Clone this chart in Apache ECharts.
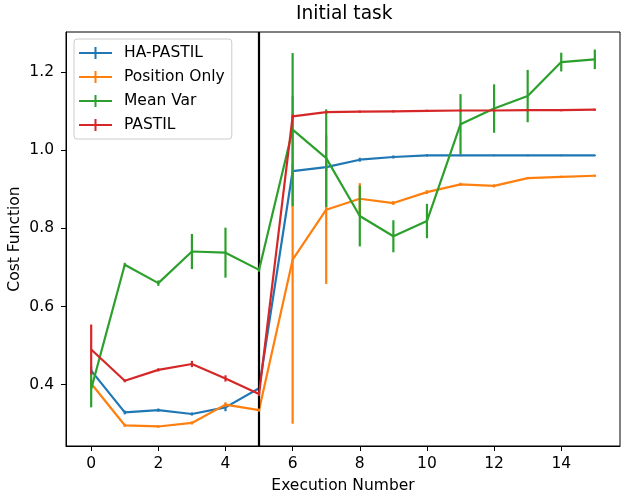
<!DOCTYPE html>
<html>
<head>
<meta charset="utf-8">
<script src="https://cdn.jsdelivr.net/npm/echarts@6/dist/echarts.min.js"></script>
<style>html,body{margin:0;padding:0;background:#fff}#c{width:621px;height:497px}</style>
</head>
<body>
<div id="c"></div>
<script>
const executions = [0,1,2,3,4,5,6,7,8,9,10,11,12,13,14,15];
const haPastil = [0.436,0.329,0.335,0.325,0.342,0.391,0.947,0.957,0.976,0.983,0.987,0.987,0.987,0.987,0.987,0.987];
const haPastilErr = [0.010,0.005,0.004,0.004,0.010,0.005,0.020,0.010,0.005,0.004,0.003,0.002,0.002,0.002,0.002,0.002];
const positionOnly = [0.403,0.296,0.293,0.302,0.349,0.335,0.720,0.848,0.876,0.865,0.893,0.913,0.909,0.929,0.932,0.935];
const positionOnlyErr = [0.010,0.004,0.003,0.004,0.006,0.004,0.420,0.190,0.040,0.005,0.005,0.004,0.004,0.003,0.003,0.003];
const meanVar = [0.389,0.707,0.660,0.741,0.738,0.694,1.053,0.980,0.832,0.780,0.819,1.067,1.107,1.139,1.226,1.233];
const meanVarErr = [0.047,0.005,0.007,0.045,0.064,0.005,0.196,0.125,0.078,0.041,0.044,0.077,0.062,0.067,0.024,0.025];
const pastil = [0.490,0.410,0.438,0.453,0.416,0.376,1.087,1.098,1.099,1.100,1.101,1.102,1.102,1.103,1.103,1.104];
const pastilErr = [0.064,0.004,0.004,0.008,0.008,0.005,0.005,0.003,0.003,0.003,0.003,0.003,0.003,0.003,0.003,0.003];
const seriesNames = ['HA-PASTIL','Position Only','Mean Var','PASTIL'];
const colors = ['#1f77b4','#ff7f0e','#2ca02c','#d62728'];
const xTicks = [0,2,4,6,8,10,12,14];
const yTicks = [0.4,0.6,0.8,1.0,1.2];
const taskSwitch = 5;

const values = [haPastil, positionOnly, meanVar, pastil];
const errs = [haPastilErr, positionOnlyErr, meanVarErr, pastilErr];
const FONT = 'DejaVu Sans';
const LW = 2.2;

const series = [];
values.forEach((vals, i) => {
  series.push({
    name: seriesNames[i], type: 'line', data: executions.map((x, j) => [x, vals[j]]),
    showSymbol: false, symbol: 'none', color: colors[i],
    lineStyle: {width: LW, color: colors[i]}, z: 2 + i * 2, animation: false
  });
  series.push({
    name: seriesNames[i] + ' err', type: 'custom', z: 3 + i * 2, animation: false,
    data: executions.map((x, j) => [x, vals[j], errs[i][j]]),
    renderItem: (params, api) => {
      const x = api.value(0), y = api.value(1), e = api.value(2);
      const lo = api.coord([x, y - e]), hi = api.coord([x, y + e]);
      return {type: 'line', shape: {x1: lo[0], y1: lo[1], x2: hi[0], y2: hi[1]},
        style: {stroke: colors[i], lineWidth: LW}};
    }
  });
});
series.push({
  name: 'switch', type: 'line', data: [], z: 20, animation: false,
  markLine: {silent: true, symbol: 'none', label: {show: false},
    lineStyle: {color: '#000', width: 2.2, type: 'solid'},
    data: [{xAxis: taskSwitch}]}
});

const chart = echarts.init(document.getElementById('c'), null, {renderer: 'canvas'});
chart.setOption({
  animation: false,
  backgroundColor: '#fff',
  title: {text: 'Initial task', left: 291, top: 0,
    textStyle: {fontFamily: FONT, fontSize: 18.6, fontWeight: 'normal', color: '#000'}},
  grid: {left: 66, right: 1, top: 32, bottom: 51, show: true, borderColor: '#000', borderWidth: 1,
    containLabel: false, outerBoundsMode: 'none'},
  legend: {
    data: seriesNames, orient: 'vertical', left: 74, top: 39,
    icon: 'path://M0,5H33V7H0Z M15.5,0H17.5V12H15.5Z',
    itemWidth: 33, itemHeight: 12, itemGap: 8,
    padding: [6, 7, 6, 5],
    backgroundColor: 'rgba(255,255,255,0.8)', borderColor: '#ccc', borderWidth: 1, borderRadius: 3,
    textStyle: {fontFamily: FONT, fontSize: 15.5, lineHeight: 15, color: '#000', padding: [0, 0, 0, 7]},
    selectedMode: false
  },
  xAxis: {
    type: 'value', min: -0.75, max: 15.75,
    name: 'Execution Number', nameLocation: 'middle', nameGap: 32, nameMoveOverlap: false,
    nameTextStyle: {fontFamily: FONT, fontSize: 15.5, color: '#000'},
    axisLine: {show: true, onZero: false, lineStyle: {color: '#000', width: 1}},
    axisTick: {show: true, length: 5, customValues: xTicks, lineStyle: {color: '#000'}},
    axisLabel: {customValues: xTicks, fontFamily: FONT, fontSize: 15.5, color: '#000', margin: 10},
    splitLine: {show: false}
  },
  yAxis: {
    type: 'value', min: 0.243, max: 1.303,
    name: 'Cost Function', nameLocation: 'middle', nameGap: 43, nameRotate: 90, nameMoveOverlap: false,
    nameTextStyle: {fontFamily: FONT, fontSize: 15.5, color: '#000'},
    axisLine: {show: true, onZero: false, lineStyle: {color: '#000', width: 1}},
    axisTick: {show: true, length: 5, customValues: yTicks, lineStyle: {color: '#000'}},
    axisLabel: {customValues: yTicks, fontFamily: FONT, fontSize: 15.5, color: '#000', margin: 12,
      formatter: v => v.toFixed(1)},
    splitLine: {show: false}
  },
  series: series
});
</script>
</body>
</html>
